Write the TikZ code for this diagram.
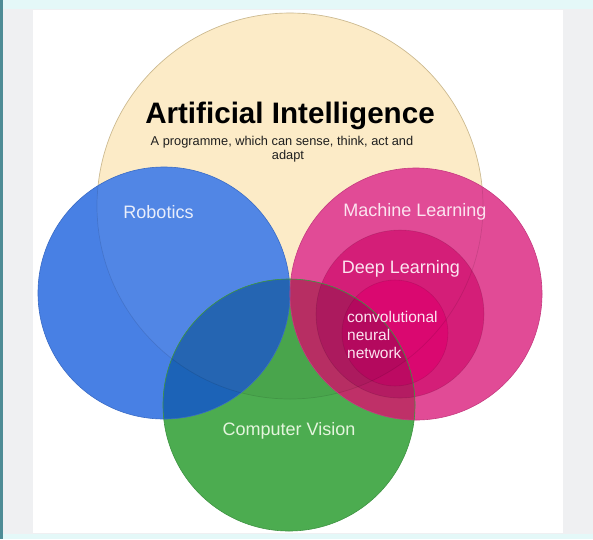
\documentclass[tikz,border=0pt]{standalone}
\usepackage{fontspec}
\setmainfont{Liberation Sans}
\definecolor{pagegray}{HTML}{EFF0F2}
\definecolor{bandcyan}{HTML}{E4F8F8}
\definecolor{tealline}{HTML}{4E8C96}
\definecolor{aibg}{HTML}{FCEBC7}
\definecolor{aiedge}{HTML}{E3CE9E}
\definecolor{robblue}{HTML}{4880E4}
\definecolor{robedge}{HTML}{3A6CC6}
\definecolor{mlpink}{HTML}{E14B96}
\definecolor{mledge}{HTML}{C63A80}
\definecolor{dlpink}{HTML}{D41E78}
\definecolor{cnnpink}{HTML}{DA0870}
\definecolor{cvgreen}{HTML}{4CAC50}
\definecolor{cvedge}{HTML}{3E9442}
\definecolor{bluegreen}{HTML}{1C63B7}
\definecolor{mlgreen}{HTML}{BF3068}
\definecolor{dlgreen}{HTML}{B41C62}
\definecolor{cnngreen}{HTML}{BC0A62}
\definecolor{robtext}{HTML}{E9EEFB}
\definecolor{pinktext}{HTML}{FCE4F0}
\definecolor{cvtext}{HTML}{E4F5DD}
\tikzset{
  lbl/.style={font=\fontsize{18}{20}\selectfont, inner sep=0pt, anchor=base},
  cnnlbl/.style={font=\fontsize{15.5}{18}\selectfont, inner sep=0pt, anchor=base west, text=pinktext},
  sub/.style={font=\fontsize{12.8}{14}\selectfont, inner sep=0pt, anchor=base, text=black!88},
}
\begin{document}
\begin{tikzpicture}[x=1pt,y=-1pt]
\useasboundingbox (0,0) rectangle (593,539);
% screenshot frame
\fill[pagegray] (0,0) rectangle (593,539);
\fill[bandcyan] (0,0) rectangle (593,9);
\fill[bandcyan] (0,534) rectangle (593,539);
\fill[white] (33,10) rectangle (563,533);
\fill[tealline] (0,0) rectangle (2.5,539);
% Artificial Intelligence
\fill[aibg] (290,206) circle[radius=193pt];
\draw[aiedge, line width=0.6pt] (290,206) circle[radius=193pt];
% Robotics
\fill[robblue] (164,293) circle[radius=126pt];
% Machine learning family
\fill[mlpink] (416,294) circle[radius=126pt];
\fill[dlpink] (400,314) circle[radius=84pt];
\fill[cnnpink] (395,333) circle[radius=53pt];
% Computer vision
\fill[cvgreen] (289,405) circle[radius=126pt];
\begin{scope}
  \clip (289,405) circle[radius=126pt];
  \fill[bluegreen] (164,293) circle[radius=126pt];
  \fill[mlgreen] (416,294) circle[radius=126pt];
  \fill[dlgreen] (400,314) circle[radius=84pt];
  \fill[cnngreen] (395,333) circle[radius=53pt];
\end{scope}
% faint tints where the circles lie inside the AI circle
\begin{scope}
  \clip (290,206) circle[radius=193pt];
  \begin{scope}
    \clip (164,293) circle[radius=126pt];
    \fill[white, opacity=0.05] (164,293) circle[radius=126pt];
  \end{scope}
  \begin{scope}
    \clip (289,405) circle[radius=126pt];
    \fill[black, opacity=0.04] (289,405) circle[radius=126pt];
  \end{scope}
\end{scope}
\draw[black, opacity=0.1, line width=0.7pt] (290,206) circle[radius=193pt];
% outlines
\draw[robedge, line width=0.6pt] (164,293) circle[radius=126pt];
\draw[mledge, line width=0.6pt] (416,294) circle[radius=126pt];
\draw[black, opacity=0.12, line width=0.6pt] (400,314) circle[radius=84pt];
\draw[black, opacity=0.1, line width=0.6pt] (395,333) circle[radius=53pt];
\draw[cvedge, line width=0.6pt] (289,405) circle[radius=126pt];
% texts
\node[font=\bfseries\fontsize{29.6}{32}\selectfont, inner sep=0pt, anchor=base] (title) at (290,123) {Artificial Intelligence};
\node[sub] (sub1) at (282,145) {A programme, which can sense, think, act and};
\node[sub] (sub2) at (288,159) {adapt};
\node[lbl, text=robtext] (rob) at (158.5,218) {Robotics};
\node[lbl, text=pinktext] (ml) at (415,216) {Machine Learning};
\node[lbl, text=pinktext] (dl) at (401,273) {Deep Learning};
\node[cnnlbl] (cnn1) at (347,322.5) {convolutional};
\node[cnnlbl] (cnn2) at (347,340.5) {neural};
\node[cnnlbl] (cnn3) at (347,358.5) {network};
\node[lbl, text=cvtext] (cv) at (289,435) {Computer Vision};
\end{tikzpicture}
\end{document}
